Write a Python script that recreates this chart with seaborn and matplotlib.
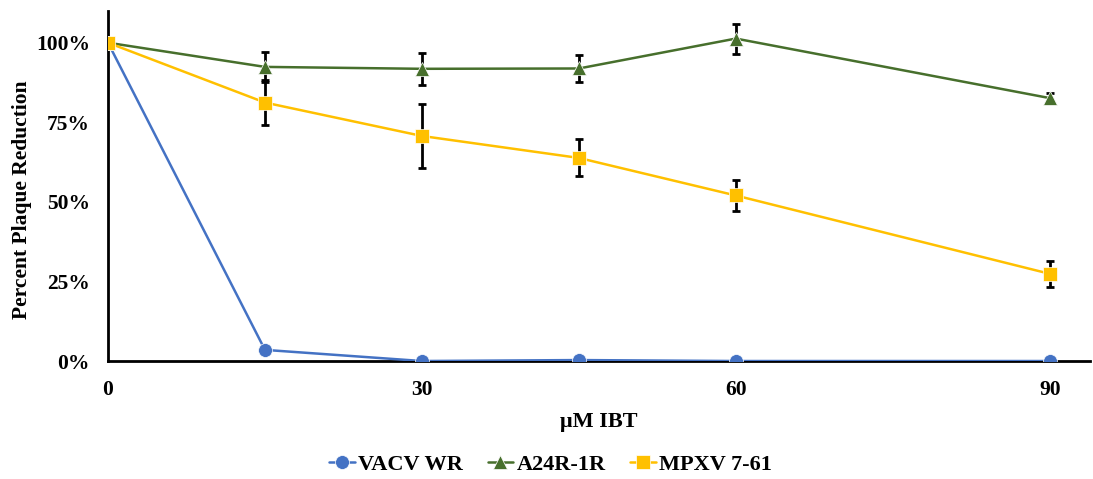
import pandas as pd
import matplotlib
matplotlib.use("Agg")
import matplotlib.pyplot as plt
import seaborn as sns
from matplotlib.ticker import FuncFormatter

# -----------------------------
# DATA
# -----------------------------
conc = [0, 15, 30, 45, 60, 90]
series_names = ["VACV WR", "A24R-1R", "MPXV 7-61"]

vacv = [100, 3.5, 0.0, 0.3, 0.0, 0.0]
a24r = [100, 92.4, 91.8, 91.9, 101.3, 82.6]
mpxv = [100, 81.2, 70.7, 63.8, 52.0, 27.4]

a24r_err = [0, 4.8, 5.0, 4.3, 4.7, 1.5]
mpxv_err = [0, 7.0, 10.0, 5.8, 5.0, 4.0]

colors = {"VACV WR": "#4472C4", "A24R-1R": "#476F2C", "MPXV 7-61": "#FFC000"}
markers = {"VACV WR": "o", "A24R-1R": "^", "MPXV 7-61": "s"}

df = pd.DataFrame({
    "conc": conc * 3,
    "value": vacv + a24r + mpxv,
    "series": [s for s in series_names for _ in conc],
})

# -----------------------------
# PLOT
# -----------------------------
sns.set_style("white")
plt.rcParams["font.family"] = ["Liberation Serif", "DejaVu Serif"]
plt.rcParams["font.weight"] = "bold"
for key in ["text.color", "axes.labelcolor", "xtick.color", "ytick.color"]:
    plt.rcParams[key] = "black"

fig = plt.figure(figsize=(10.93, 4.79), dpi=100)
ax = fig.add_axes([0.0988, 0.2463, 0.898, 0.731])

# error bars first so the markers sit on top
ax.errorbar(conc[1:], a24r[1:], yerr=a24r_err[1:], fmt="none", ecolor="black",
            elinewidth=2, capsize=3, capthick=2, zorder=2)
ax.errorbar(conc[1:], mpxv[1:], yerr=mpxv_err[1:], fmt="none", ecolor="black",
            elinewidth=2, capsize=3, capthick=2, zorder=2)

sns.lineplot(data=df, x="conc", y="value", hue="series", style="series",
             palette=colors, markers=markers, dashes=False, linewidth=1.8,
             markersize=10, markeredgewidth=0.5, ax=ax, zorder=3)

ax.set_xlim(0, 93.8)
ax.set_ylim(0, 110)
ax.set_xticks([0, 30, 60, 90])
ax.set_yticks([0, 25, 50, 75, 100])
ax.yaxis.set_major_formatter(FuncFormatter(lambda y, _: f"{y:.0f}%"))
ax.tick_params(axis="both", length=0, labelsize=15.5, labelcolor="black")
ax.tick_params(axis="y", pad=13)
ax.tick_params(axis="x", pad=14)
for lab in ax.get_xticklabels() + ax.get_yticklabels():
    lab.set_fontweight("bold")

for side in ["top", "right"]:
    ax.spines[side].set_visible(False)
for side in ["left", "bottom"]:
    ax.spines[side].set_color("black")
    ax.spines[side].set_linewidth(2)

ax.set_xlabel("μM IBT", fontsize=16, fontweight="bold", color="black")
ax.set_ylabel("Percent Plaque Reduction", fontsize=15.5, fontweight="bold", color="black")
ax.xaxis.set_label_coords(0.5, -0.145)
ax.yaxis.set_label_coords(-0.077, 0.46)

handles, labels = ax.get_legend_handles_labels()
ax.legend(handles, labels, loc="upper center", bbox_to_anchor=(0.451, -0.21),
          ncol=3, frameon=False, prop={"size": 16, "weight": "bold"},
          handlelength=1.15, handletextpad=0.15, columnspacing=1.1)

plt.savefig("out.png", dpi=100)
plt.close()
